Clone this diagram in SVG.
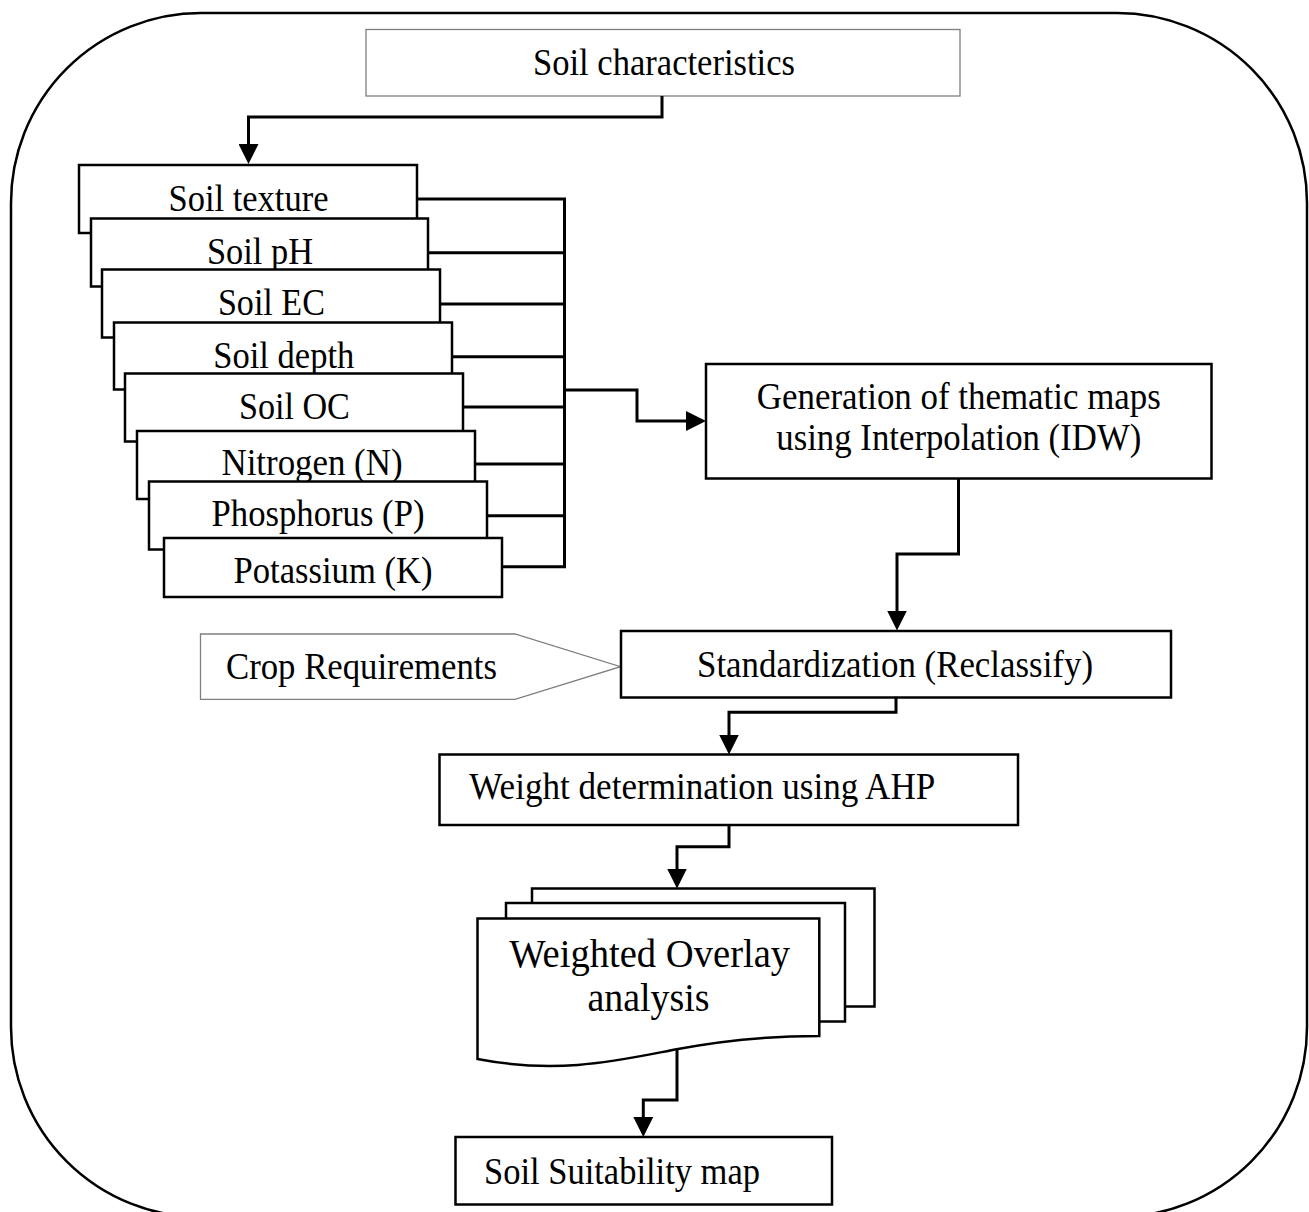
<svg xmlns="http://www.w3.org/2000/svg" width="1309" height="1212" viewBox="0 0 1309 1212">
<style>
  text { font-family: "Liberation Serif", "Times New Roman", serif; font-size: 37px; fill: #000; }
  .box { fill: #fff; stroke: #000; stroke-width: 2.5; }
  .gbox { fill: #fff; stroke: #7f7f7f; stroke-width: 1.3; }
  .conn { fill: none; stroke: #000; stroke-width: 3; }
  .mid { text-anchor: middle; }
  .big { font-size: 40px; }
</style>
<defs>
  <marker id="arr" markerUnits="userSpaceOnUse" markerWidth="20" markerHeight="20" refX="10" refY="10" orient="auto">
    <path d="M0,0 L20,10 L0,20 z" fill="#000"/>
  </marker>
</defs>
<rect x="0" y="0" width="1309" height="1212" fill="#fff"/>
<g id="frame">
  <rect x="11" y="13" width="1296" height="1204" rx="190" ry="190" fill="none" stroke="#000" stroke-width="2.5"/>
</g>

<g id="soil-characteristics">
  <rect class="gbox" x="366" y="29.5" width="594" height="66.5"/>
  <text class="mid" x="664" y="75" textLength="262" lengthAdjust="spacingAndGlyphs">Soil characteristics</text>
</g>

<g id="soil-texture">
  <rect class="box" x="79" y="165" width="338" height="68"/>
  <text class="mid" x="248.5" y="211" textLength="160" lengthAdjust="spacingAndGlyphs">Soil texture</text>
</g>
<g id="soil-ph">
  <rect class="box" x="91" y="218.5" width="337" height="68"/>
  <text class="mid" x="260" y="263.5" textLength="106" lengthAdjust="spacingAndGlyphs">Soil pH</text>
</g>
<g id="soil-ec">
  <rect class="box" x="102" y="269.5" width="338" height="68"/>
  <text class="mid" x="271.4" y="315" textLength="107" lengthAdjust="spacingAndGlyphs">Soil EC</text>
</g>
<g id="soil-depth">
  <rect class="box" x="114" y="322.5" width="338" height="67"/>
  <text class="mid" x="283.8" y="367.5" textLength="141" lengthAdjust="spacingAndGlyphs">Soil depth</text>
</g>
<g id="soil-oc">
  <rect class="box" x="125" y="373.5" width="338" height="68"/>
  <text class="mid" x="294.4" y="418.5" textLength="111" lengthAdjust="spacingAndGlyphs">Soil OC</text>
</g>
<g id="nitrogen">
  <rect class="box" x="137" y="431" width="338" height="68"/>
  <text class="mid" x="312" y="475" textLength="181" lengthAdjust="spacingAndGlyphs">Nitrogen (N)</text>
</g>
<g id="phosphorus">
  <rect class="box" x="149" y="481.5" width="338" height="68"/>
  <text class="mid" x="318" y="526" textLength="213" lengthAdjust="spacingAndGlyphs">Phosphorus (P)</text>
</g>
<g id="potassium">
  <rect class="box" x="164" y="538" width="338" height="59"/>
  <text class="mid" x="333" y="582.5" textLength="199" lengthAdjust="spacingAndGlyphs">Potassium (K)</text>
</g>

<g id="generation">
  <rect class="box" x="706" y="364" width="505.5" height="114.5"/>
  <text class="mid" x="958.8" y="408.5" textLength="404" lengthAdjust="spacingAndGlyphs">Generation of thematic maps</text>
  <text class="mid" x="958.8" y="449.5" textLength="365" lengthAdjust="spacingAndGlyphs">using Interpolation (IDW)</text>
</g>

<g id="crop-requirements">
  <polygon class="gbox" points="200.5,634 515,634 620.5,666.7 515,699.3 200.5,699.3"/>
  <text x="226" y="679.3" textLength="271" lengthAdjust="spacingAndGlyphs">Crop Requirements</text>
</g>

<g id="standardization">
  <rect class="box" x="621" y="631" width="550" height="66.5"/>
  <text class="mid" x="895" y="677" textLength="396" lengthAdjust="spacingAndGlyphs">Standardization (Reclassify)</text>
</g>

<g id="weight">
  <rect class="box" x="439.5" y="754.5" width="578.5" height="70.5"/>
  <text x="469.3" y="798.5" textLength="466" lengthAdjust="spacingAndGlyphs">Weight determination using AHP</text>
</g>

<g id="weighted-overlay">
  <rect class="box" x="532" y="888.5" width="342.5" height="118"/>
  <rect class="box" x="506" y="903" width="339" height="118.5"/>
  <path class="box" d="M477.5,918.5 H819.3 V1036 C770,1036 720,1041 678,1049 C620,1060 560,1075 477.5,1059 Z"/>
  <text class="mid big" x="649.7" y="966.7" textLength="281" lengthAdjust="spacingAndGlyphs">Weighted Overlay</text>
  <text class="mid big" x="648.5" y="1010.5" textLength="122" lengthAdjust="spacingAndGlyphs">analysis</text>
</g>

<g id="soil-suitability">
  <rect class="box" x="455.5" y="1137" width="376.5" height="67.5"/>
  <text x="484" y="1184" textLength="276" lengthAdjust="spacingAndGlyphs">Soil Suitability map</text>
</g>

<g id="connectors">
  <path class="conn" d="M662,96 V117 H248.5 V154" marker-end="url(#arr)"/>
  <path class="conn" d="M417,199 H564.5 V566.7 H502"/>
  <path class="conn" d="M428,252.7 H564.5"/>
  <path class="conn" d="M440,304 H564.5"/>
  <path class="conn" d="M452,356.7 H564.5"/>
  <path class="conn" d="M463,407 H564.5"/>
  <path class="conn" d="M475,464 H564.5"/>
  <path class="conn" d="M487,515.7 H564.5"/>
  <path class="conn" d="M564.5,390 H637 V421 H696" marker-end="url(#arr)"/>
  <path class="conn" d="M958.5,478.5 V554 H897 V620.5" marker-end="url(#arr)"/>
  <path class="conn" d="M896,697.5 V712.3 H729 V744.5" marker-end="url(#arr)"/>
  <path class="conn" d="M729,825 V846.7 H677 V878.5" marker-end="url(#arr)"/>
  <path class="conn" d="M677,1050 V1100 H643.3 V1127" marker-end="url(#arr)"/>
</g>
</svg>
